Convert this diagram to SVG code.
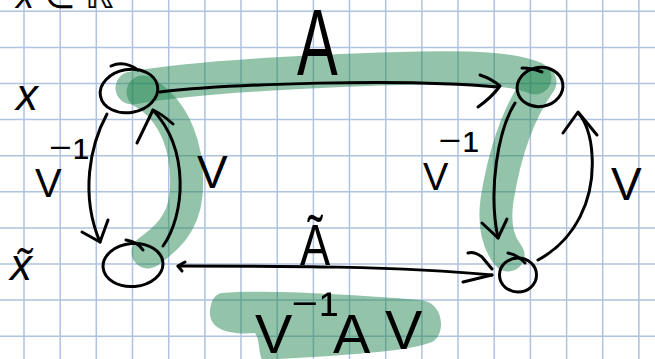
<svg xmlns="http://www.w3.org/2000/svg" width="655" height="359" viewBox="0 0 655 359">
<style>
.grid{stroke:#afc2de;stroke-width:1.5;fill:none}
.ink{stroke:#000;stroke-width:3;fill:none;stroke-linecap:round;stroke-linejoin:round}
.hl{stroke:#19824a;stroke-width:33;fill:none;stroke-linecap:round;stroke-linejoin:round;opacity:0.47}
.hlf{fill:#19824a;opacity:0.47}
text{font-family:"Liberation Sans","DejaVu Sans",sans-serif;fill:#000}
</style>
<rect width="655" height="359" fill="#fff"/>
<g id="grid" class="grid">
<path d="M24,0V359M60.2,0V359M96.3,0V359M132.5,0V359M168.7,0V359M204.9,0V359M241,0V359M277.2,0V359M313.4,0V359M349.5,0V359M385.7,0V359M421.9,0V359M458,0V359M494.2,0V359M530.4,0V359M566.6,0V359M602.7,0V359M638.9,0V359"/>
<path d="M0,11.3H655M0,47.4H655M0,83.5H655M0,119.6H655M0,155.7H655M0,191.8H655M0,227.9H655M0,264H655M0,300.1H655M0,336.2H655"/>
</g>
<g id="highlights">
<path class="hl" d="M132,88 C200,76 330,70 420,68 C470,67 510,68 535,78"/>
<path class="hl" d="M143,92 C175,110 190,150 186,195 C183,225 165,240 148,252"/>
<path class="hl" d="M540,82 C520,110 505,150 497,200 C493,230 500,245 508,255"/>
<path class="hlf" d="M222,293 C260,290 330,293 420,300 C445,302 446,335 432,342 C410,350 380,352 330,356 L262,360 C258,350 260,340 255,333 C230,335 208,330 210,310 C211,300 215,294 222,293 Z"/>
</g>
<text x="16" y="8" font-size="36" font-style="italic">x ∈ ℝ</text>
<g id="node-x">
<ellipse class="ink" cx="129" cy="91" rx="29" ry="21.5" transform="rotate(-10 129 91)"/>
<path class="ink" d="M111,66 Q124,60 138,70"/>
<text x="16" y="110" font-size="44" font-style="italic">x</text>
</g>
<g id="node-xt">
<ellipse class="ink" cx="133" cy="265" rx="30" ry="21.5" transform="rotate(-5 133 265)"/>
<path class="ink" d="M126,240 Q138,242 143,250"/>
<text x="10" y="280" font-size="44" font-style="italic">x̃</text>
</g>
<g id="node-Ax">
<ellipse class="ink" cx="540" cy="87" rx="23" ry="19.5" transform="rotate(-10 540 87)"/>
<path class="ink" d="M522,68 Q532,68 542,72"/>
</g>
<g id="node-Axt">
<ellipse class="ink" cx="518" cy="275" rx="18.5" ry="17"/>
<path class="ink" d="M508,253 Q518,255 525,263"/>
</g>
<g id="connectors">
<path class="ink" d="M160,92 C230,84 400,78 498,87"/>
<path class="ink" d="M480,75 Q492,79 500,86 Q492,97 478,107"/>
<path class="ink" d="M178,266 C280,266 400,266 492,275"/>
<path class="ink" d="M185,262 L178,266 L182,271"/>
<path class="ink" d="M468,253 Q474,251 482,257 L492,269 M463,282 L492,275"/>
<path class="ink" d="M107,114 C90,145 80,195 100,242"/>
<path class="ink" d="M82,232 L100,242 L108,220"/>
<path class="ink" d="M163,246 C185,215 190,150 153,110"/>
<path class="ink" d="M137,143 L153,110 Q162,114 173,124"/>
<path class="ink" d="M515,103 C498,130 488,190 498,238"/>
<path class="ink" d="M482,223 L498,238 L507,219"/>
<path class="ink" d="M538,260 C575,240 595,200 592,155 C591,135 585,120 578,113"/>
<path class="ink" d="M563,133 L578,112 L597,135"/>
</g>
<g id="labels">
<text transform="translate(297,75) scale(0.65,1)" font-size="94">A</text>
<text transform="translate(300,265) scale(0.78,1)" font-size="58">Ã</text>
<text x="35" y="197" font-size="40">V<tspan dx="-14" dy="-25" font-size="48">⁻¹</tspan></text>
<text x="197" y="188" font-size="46">V</text>
<text x="423" y="190" font-size="38">V<tspan dx="-11" dy="-25" font-size="48">⁻¹</tspan></text>
<text x="611" y="200" font-size="46">V</text>
<text y="353" font-size="56"><tspan x="255">V</tspan><tspan x="290" y="332" font-size="56">⁻¹</tspan><tspan x="333" y="353">A</tspan><tspan x="385" y="349">V</tspan></text>
</g>
</svg>
